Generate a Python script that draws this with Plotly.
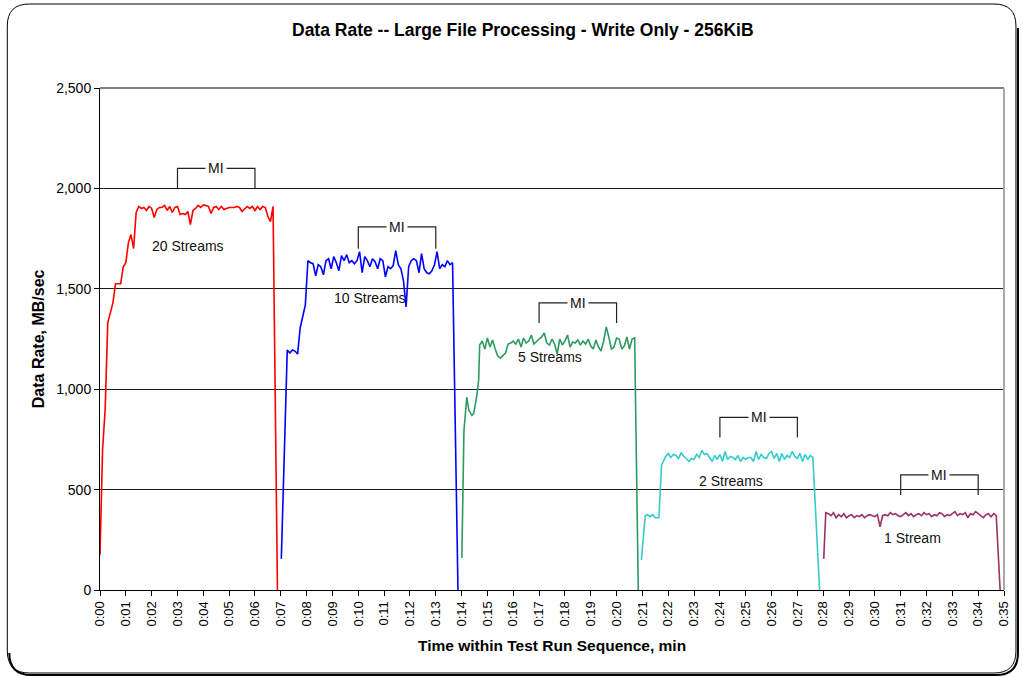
import plotly.graph_objects as go

# ---------------- data ----------------
tick_labels = ["0:%02d" % m for m in range(36)]
tick_vals = list(range(36))

# 20 Streams
t20 = [round(0.1 * i, 2) for i in range(68)] + [6.87]
v20 = [175, 700, 900, 1330, 1380, 1430, 1525, 1525, 1525, 1610,
       1630, 1730, 1770, 1700, 1880, 1910,
       1900, 1905, 1890, 1910, 1900, 1855, 1895, 1905, 1905, 1915,
       1890, 1910, 1880, 1905, 1910, 1870, 1875, 1870, 1885, 1820,
       1890, 1900, 1915, 1905, 1918, 1915, 1910, 1875, 1905, 1910,
       1895, 1910, 1895, 1900, 1905, 1905, 1905, 1910, 1905, 1885,
       1900, 1910, 1900, 1910, 1890, 1910, 1895, 1910, 1905, 1860,
       1835, 1910, 0]

# 10 Streams
t10 = [7.02] + [round(7.25 + 0.1 * i, 2) for i in range(65)] + [13.86]
v10 = [155,
       1195, 1180, 1195, 1190, 1175, 1305, 1360, 1420,
       1640, 1630, 1625, 1565, 1620, 1610, 1570, 1640, 1650, 1600,
       1660, 1630, 1590, 1665, 1640, 1670, 1630, 1640, 1625, 1640,
       1685, 1580, 1660, 1640, 1610, 1650, 1635, 1600, 1650, 1640,
       1560, 1610, 1600, 1615, 1690, 1620, 1600, 1540, 1410, 1610,
       1640, 1650, 1640, 1580, 1675, 1600, 1580, 1575, 1590, 1620,
       1685, 1600, 1620, 1610, 1640, 1620, 1630,
       0]

# 5 Streams
t5 = [14.01, 14.09, 14.2, 14.28, 14.4, 14.47, 14.58, 14.66] + \
     [round(14.7 + 0.1 * i, 2) for i in range(61)] + [20.84]
v5 = [160, 790, 960, 895, 870, 880, 960, 1045,
      1220, 1240, 1200, 1255, 1210, 1245, 1200, 1165, 1155, 1170,
      1180, 1225, 1230, 1240, 1225, 1250, 1210, 1255, 1230, 1240,
      1270, 1225, 1240, 1250, 1260, 1280, 1230, 1220, 1250, 1225,
      1175, 1250, 1220, 1240, 1270, 1210, 1235, 1230, 1245, 1220,
      1240, 1225, 1250, 1215, 1200, 1245, 1210, 1190, 1240, 1310,
      1260, 1200, 1210, 1255, 1250, 1200, 1215, 1260, 1200, 1250,
      1255,
      0]

# 2 Streams
t2 = [20.96, 21.11, 21.2, 21.3, 21.4, 21.5, 21.64, 21.74] + \
     [round(21.9 + 0.1 * i, 2) for i in range(58)] + [27.86]
v2 = [150, 370, 375, 365, 375, 360, 360, 620,
      665, 680, 660, 675, 670, 655, 685, 665, 655, 640,
      655, 650, 675, 660, 695, 675, 680, 660, 640, 670,
      650, 675, 640, 690, 650, 665, 660, 650, 670, 640,
      660, 650, 660, 660, 640, 690, 650, 675, 660, 655,
      680, 690, 655, 680, 640, 680, 650, 670, 660, 690,
      665, 655, 680, 640, 675, 650, 670, 660,
      0]

# 1 Stream
t1 = [28.02] + [round(28.1 + 0.1 * i, 2) for i in range(67)] + [34.85]
v1 = [155,
      385, 380, 370, 385, 360, 375, 365, 380, 360, 370,
      375, 360, 370, 365, 375, 360, 370, 375, 370, 365,
      375, 315, 370, 375, 370, 385, 375, 380, 370, 365,
      375, 385, 370, 380, 365, 375, 380, 370, 385, 375,
      380, 365, 375, 370, 385, 380, 365, 375, 370, 380,
      390, 370, 380, 375, 385, 360, 380, 375, 390, 380,
      370, 360, 375, 380, 365, 380, 370,
      0]

series_names = ["20 Streams", "10 Streams", "5 Streams", "2 Streams", "1 Stream"]
series_colors = ["#FF0000", "#0000FF", "#2E9A62", "#33CCCC", "#993366"]
series_t = [t20, t10, t5, t2, t1]
series_v = [v20, v10, v5, v2, v1]

# MI bracket windows (minutes) and heights (MB/sec)
mi_start = [3, 10, 17, 24, 31]
mi_end = [6, 13, 20, 27, 34]
mi_low = [2000, 1700, 1330, 760, 473]
mi_high = [2100, 1808, 1430, 860, 573]

# series label positions
label_x = [3.4, 10.46, 17.44, 24.43, 31.45]
label_y = [1713, 1454, 1160, 543, 259]

# ---------------- figure ----------------
W, H = 1023, 677
L, R, T, B = 100, 16, 88, 87
PW, PH = W - L - R, H - T - B
FONT = "Liberation Sans, Arial"


def px(x):
    return (x - L) / PW


def py(y):
    return (H - B - y) / PH


fig = go.Figure()
for name, col, tt, vv in zip(series_names, series_colors, series_t, series_v):
    fig.add_trace(go.Scatter(x=tt, y=vv, mode="lines", name=name,
                             line=dict(color=col, width=1.6), showlegend=False))

shapes = []
annotations = []

# MI brackets
for a, b, lo, hi in zip(mi_start, mi_end, mi_low, mi_high):
    shapes.append(dict(type="path", xref="x", yref="y",
                       path=f"M {a},{lo} L {a},{hi} L {b},{hi} L {b},{lo}",
                       line=dict(color="#222222", width=1.2), layer="above"))
    annotations.append(dict(x=(a + b) / 2, y=hi, xref="x", yref="y", text="MI",
                            showarrow=False, bgcolor="white", borderpad=2,
                            font=dict(family=FONT, size=14, color="#111")))

for name, x, y in zip(series_names, label_x, label_y):
    annotations.append(dict(x=x, y=y, xref="x", yref="y", text=name, showarrow=False,
                            font=dict(family=FONT, size=14, color="#111")))

# top and right border of plot area
shapes.append(dict(type="line", xref="paper", yref="paper", x0=0, x1=1, y0=1, y1=1,
                   line=dict(color="#555555", width=1.5), layer="below"))
shapes.append(dict(type="line", xref="paper", yref="paper", x0=1, x1=1, y0=0, y1=1,
                   line=dict(color="#A8A8A8", width=2)))

# outer rounded frame
x0, x1, y0, y1, r = 7, 1019, 4, 673, 22


def P(x, y):
    return f"{px(x):.5f},{py(y):.5f}"


frame = (f"M {P(x0 + r, y0)} L {P(x1 - r, y0)} Q {P(x1, y0)} {P(x1, y0 + r)} "
         f"L {P(x1, y1 - r)} Q {P(x1, y1)} {P(x1 - r, y1)} L {P(x0 + r, y1)} "
         f"Q {P(x0, y1)} {P(x0, y1 - r)} L {P(x0, y0 + r)} Q {P(x0, y0)} {P(x0 + r, y0)} Z")
shapes.append(dict(type="path", xref="paper", yref="paper", path=frame,
                   line=dict(color="black", width=1), layer="below"))
s = 2
shadow = (f"M {P(x0 + s, y1 + s - r)} Q {P(x0 + s, y1 + s)} {P(x0 + s + r, y1 + s)} "
          f"L {P(x1 + s - r, y1 + s)} Q {P(x1 + s, y1 + s)} {P(x1 + s, y1 + s - r)} "
          f"L {P(x1 + s, y0 + s + r)}")
shapes.append(dict(type="path", xref="paper", yref="paper", path=shadow,
                   line=dict(color="black", width=2), layer="below"))

# titles
annotations.append(dict(x=px(524), y=py(30), xref="paper", yref="paper",
                        text="<b>Data Rate -- Large File Processing - Write Only - 256KiB</b>",
                        showarrow=False, xanchor="center", yanchor="middle",
                        font=dict(family=FONT, size=17.5, color="black")))
annotations.append(dict(x=px(554), y=py(645), xref="paper", yref="paper",
                        text="<b>Time within Test Run Sequence, min</b>", showarrow=False,
                        xanchor="center", yanchor="middle",
                        font=dict(family=FONT, size=15.5, color="black")))
annotations.append(dict(x=px(38), y=py(339), xref="paper", yref="paper",
                        text="<b>Data Rate, MB/sec</b>", showarrow=False, textangle=-90,
                        xanchor="center", yanchor="middle",
                        font=dict(family=FONT, size=16, color="black")))

fig.update_layout(
    width=W, height=H, autosize=False,
    margin=dict(l=L, r=R, t=T, b=B),
    paper_bgcolor="white", plot_bgcolor="white",
    shapes=shapes, annotations=annotations,
    font=dict(family=FONT, size=12, color="black"),
    xaxis=dict(range=[0, 35], tickvals=tick_vals, ticktext=tick_labels, tickangle=-90,
               showgrid=False, zeroline=False, showline=True, linecolor="black", linewidth=1,
               ticks="outside", ticklen=5, tickcolor="black",
               tickfont=dict(family=FONT, size=13, color="black")),
    yaxis=dict(range=[0, 2500], tickvals=[0, 500, 1000, 1500, 2000, 2500],
               ticktext=["0", "500", "1,000", "1,500", "2,000", "2,500"],
               showgrid=True, gridcolor="#1a1a1a", gridwidth=1, zeroline=False,
               showline=True, linecolor="black", linewidth=1,
               ticks="outside", ticklen=5, tickcolor="black",
               tickfont=dict(family=FONT, size=14, color="black")),
)

fig.write_html("out.html", config={"displayModeBar": False},
               post_script="document.body.style.margin='0';document.body.style.padding='0';"
                           "window.dispatchEvent(new Event('resize'));")
